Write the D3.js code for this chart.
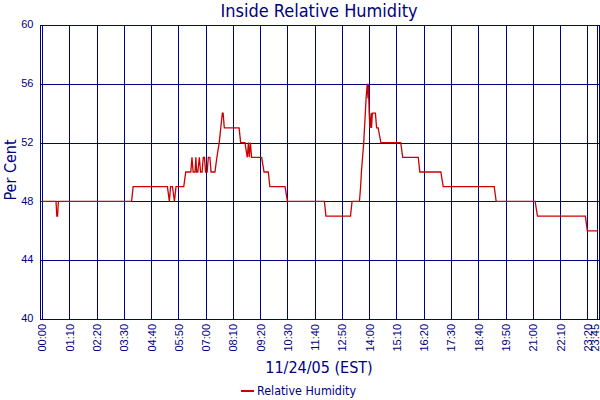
<!DOCTYPE html>
<html>
<head>
<meta charset="utf-8">
<script src="https://cdn.jsdelivr.net/npm/d3@7"></script>
<style>
  body { margin: 0; background: #fff; }
  svg { display: block; font-family: 'DejaVu Sans Condensed', 'DejaVu Sans', sans-serif; }
  .grid line { stroke: #000080; shape-rendering: crispEdges; }
  .grid text { fill: #000080; font-size: 11px; }
</style>
</head>
<body>
<div id="chart"></div>
<script>
(function(){
  'use strict';

  // readings (time of day, per cent)
  var times = ['00:00','00:36','00:38','00:40','00:42','03:50','03:54','05:22','05:27','05:30',
               '05:35','05:40','05:44','06:04','06:09','06:22','06:25','06:28','06:33','06:35',
               '06:37','06:40','06:44','06:47','06:51','06:54','06:57','07:00','07:04','07:07',
               '07:11','07:14','07:24','07:29','07:35','07:39','07:43','07:45','07:48','08:26',
               '08:30','08:41','08:47','08:50','08:52','08:55','08:58','09:24','09:30','09:41',
               '09:45','10:24','10:30','12:05','12:09','13:12','13:16','13:35','13:38','13:40',
               '13:43','13:46','13:48','13:50','13:52','13:55','13:57','13:58','14:00','14:02',
               '14:05','14:06','14:08','14:16','14:19','14:23','14:30','15:21','15:26','16:06',
               '16:10','17:04','17:10','19:21','19:26','21:06','21:12','23:15','23:20','23:46'];
  var humidity = [48,48,47,47,48,48,49,49,48,49,
                  49,48,49,49,50,50,51,50,50,51,
                  50,50,51,50,50,51,51,50,50,51,
                  51,50,50,51,52,53,54,54,53,53,
                  52,52,51,52,51,52,51,51,50,50,
                  49,49,48,48,47,47,48,48,49,50,
                  51,52,53,54,55,56,55,56,54,53,
                  54,53,54,54,53,53,52,52,51,51,
                  50,50,49,49,48,48,47,47,46,46];

  var xTickLabels = ['00:00','01:10','02:20','03:30','04:40','05:50','07:00','08:10','09:20','10:30',
                     '11:40','12:50','14:00','15:10','16:20','17:30','18:40','19:50','21:00','22:10',
                     '23:20','23:45'];
  var yTicks = [40, 44, 48, 52, 56, 60];

  var w = 600, h = 400,
      left = 40, right = 599, top = 25, bottom = 319,
      navy = '#000080';

  function minutes(s) {
    var p = s.split(':');
    return +p[0] * 60 + +p[1];
  }

  var data = times.map(function(t, i) { return {t: minutes(t), v: humidity[i]}; });

  var svg = d3.select('#chart').append('svg')
      .attr('width', w)
      .attr('height', h);

  var x = d3.scaleLinear()
      .domain([0, 1430])
      .range([left + 2, right]);

  var y = d3.scaleLinear()
      .domain([40, 60])
      .range([bottom, top]);

  // horizontal grid + y labels
  svg.append('g')
    .attr('class', 'grid')
    .attr('transform', 'translate(' + left + ',0)')
    .call(d3.axisLeft(y)
      .tickValues(yTicks)
      .tickSize(-(right - left))
      .tickPadding(6.5)
      .tickFormat(d3.format('d')))
    .call(function(g) { g.select('.domain').remove(); })
    .selectAll('text')
      .attr('dy', '0.25em');

  // vertical grid + rotated time labels
  svg.append('g')
    .attr('class', 'grid')
    .attr('transform', 'translate(0,' + bottom + ')')
    .call(d3.axisBottom(x)
      .tickValues(xTickLabels.map(minutes))
      .tickSize(-(bottom - top))
      .tickFormat(function(d, i) { return xTickLabels[i]; }))
    .call(function(g) { g.select('.domain').remove(); })
    .selectAll('text')
      .attr('transform', 'rotate(-90)')
      .attr('text-anchor', 'end')
      .attr('x', -5)
      .attr('y', 0)
      .attr('dy', function(d, i) { return i === xTickLabels.length - 1 ? '0.15em' : '0.36em'; });

  // frame
  svg.append('rect')
    .attr('x', left + 0.5)
    .attr('y', top + 0.5)
    .attr('width', right - left)
    .attr('height', bottom - top)
    .attr('fill', 'none')
    .attr('stroke', navy)
    .style('shape-rendering', 'crispEdges');

  var line = d3.line()
      .x(function(d) { return x(d.t); })
      .y(function(d) { return y(d.v); });

  svg.append('path')
    .datum(data)
    .attr('d', line)
    .attr('fill', 'none')
    .attr('stroke', '#cc0000')
    .attr('stroke-width', 1.3);

  svg.append('text')
    .attr('x', 319)
    .attr('y', 17)
    .attr('text-anchor', 'middle')
    .attr('fill', navy)
    .style('font-size', '18px')
    .text('Inside Relative Humidity');

  svg.append('text')
    .attr('transform', 'translate(15.5,' + 170 + ') rotate(-90)')
    .attr('text-anchor', 'middle')
    .attr('fill', navy)
    .style('font-size', '16px')
    .text('Per Cent');

  svg.append('text')
    .attr('x', 319)
    .attr('y', 373)
    .attr('text-anchor', 'middle')
    .attr('fill', navy)
    .style('font-size', '16px')
    .text('11/24/05 (EST)');

  // legend
  svg.append('line')
    .attr('x1', 241).attr('x2', 254)
    .attr('y1', 391).attr('y2', 391)
    .attr('stroke', '#cc0000')
    .attr('stroke-width', 2);

  svg.append('text')
    .attr('x', 257)
    .attr('y', 395)
    .attr('fill', navy)
    .style('font-size', '12.4px')
    .text('Relative Humidity');

}());
</script>
</body>
</html>
